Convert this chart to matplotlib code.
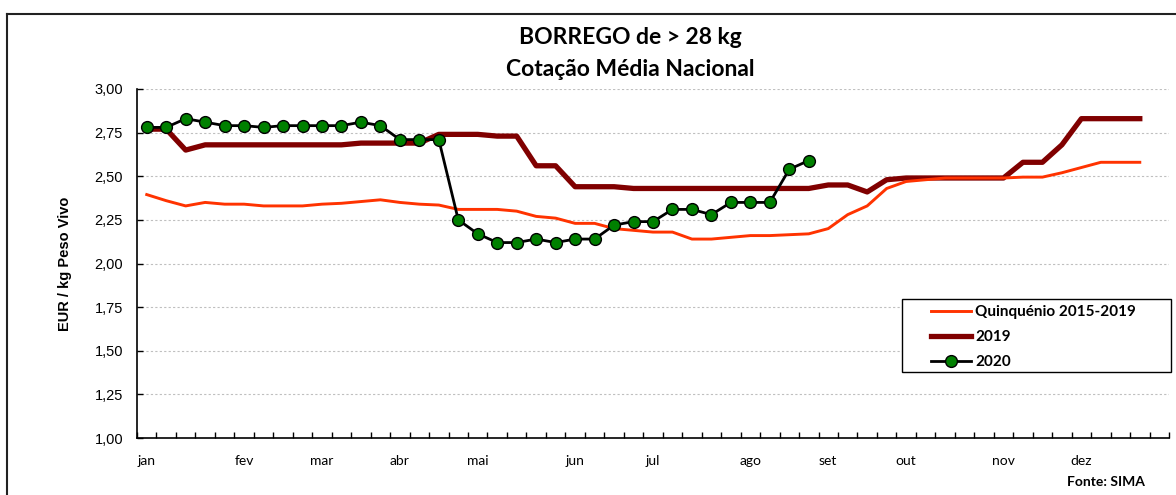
import matplotlib.pyplot as plt
import numpy as np
from matplotlib.lines import Line2D
from matplotlib.patches import Rectangle

# weekly prices, EUR / kg peso vivo
quinquenio = [
    2.395, 2.36, 2.33, 2.35, 2.34, 2.34, 2.33, 2.33, 2.33, 2.34,
    2.345, 2.355, 2.365, 2.35, 2.34, 2.335, 2.31, 2.31, 2.31, 2.30,
    2.27, 2.26, 2.23, 2.23, 2.20, 2.19, 2.18, 2.18, 2.14, 2.14,
    2.15, 2.16, 2.16, 2.165, 2.17, 2.20, 2.28, 2.33, 2.43, 2.47,
    2.48, 2.49, 2.49, 2.49, 2.49, 2.495, 2.495, 2.52, 2.55, 2.58,
    2.58, 2.58,
]
ano_2019 = [
    2.77, 2.77, 2.65, 2.68, 2.68, 2.68, 2.68, 2.68, 2.68, 2.68,
    2.68, 2.69, 2.69, 2.69, 2.69, 2.74, 2.74, 2.74, 2.73, 2.73,
    2.56, 2.56, 2.44, 2.44, 2.44, 2.43, 2.43, 2.43, 2.43, 2.43,
    2.43, 2.43, 2.43, 2.43, 2.43, 2.45, 2.45, 2.41, 2.48, 2.49,
    2.49, 2.49, 2.49, 2.49, 2.49, 2.58, 2.58, 2.68, 2.83, 2.83,
    2.83, 2.83,
]
ano_2020 = [
    2.78, 2.78, 2.83, 2.81, 2.79, 2.79, 2.78, 2.79, 2.79, 2.79,
    2.79, 2.81, 2.79, 2.71, 2.71, 2.71, 2.25, 2.17, 2.12, 2.12,
    2.14, 2.12, 2.14, 2.14, 2.22, 2.24, 2.24, 2.31, 2.31, 2.28,
    2.35, 2.35, 2.35, 2.54, 2.59,
]
n_weeks = 53
month_labels = ["jan", "fev", "mar", "abr", "mai", "jun",
                "jul", "ago", "set", "out", "nov", "dez"]
month_weeks = [0, 5, 9, 13, 17, 22, 26, 31, 35, 39, 44, 48]

W, H = 1176, 495
fig = plt.figure(figsize=(W / 100, H / 100), dpi=100)
ax = fig.add_axes([137 / W, 1 - 438 / H, (1169 - 137) / W, (438 - 89) / H])

ax.plot(np.arange(len(quinquenio)), quinquenio, color="#FF3300",
        linewidth=2.1, label="Quinquénio 2015-2019", zorder=3)
ax.plot(np.arange(len(ano_2019)), ano_2019, color="#800000",
        linewidth=3.8, label="2019", zorder=2)
ax.plot(np.arange(len(ano_2020)), ano_2020, color="black", linewidth=2.0,
        marker="o", markersize=8.5, markerfacecolor="#008000",
        markeredgecolor="black", markeredgewidth=1.0, label="2020", zorder=4)

ax.set_xlim(-0.5, n_weeks - 0.5)
ax.set_ylim(1.0, 3.0)
ax.set_yticks(np.arange(1.0, 3.01, 0.25))
ax.set_yticklabels([f"{v:.2f}".replace(".", ",") for v in np.arange(1.0, 3.01, 0.25)],
                   fontfamily="Liberation Sans", fontsize=10.5)
ax.set_xticks(month_weeks)
ax.set_xticklabels(month_labels, fontfamily="Lato", fontsize=10)
ax.set_xticks(np.arange(-0.5, n_weeks, 1.0), minor=True)
ax.tick_params(axis="x", which="major", length=0, pad=12)
ax.tick_params(axis="x", which="minor", direction="in", length=4, width=1)
ax.tick_params(axis="y", direction="in", length=4, width=1, pad=10)

ax.yaxis.grid(True, color="#BFBFBF", linestyle=(0, (2, 2)), linewidth=0.8)
ax.set_axisbelow(True)
for side in ("top", "right"):
    ax.spines[side].set_visible(False)
for side in ("left", "bottom"):
    ax.spines[side].set_linewidth(1.2)

ax.set_ylabel("EUR / kg Peso Vivo", fontfamily="Liberation Sans",
              fontweight="bold", fontsize=10.5, labelpad=16)

fig.text(630 / W, 1 - 38 / H, "BORREGO de > 28 kg", ha="center", va="center",
         fontfamily="Lato", fontweight="bold", fontsize=16.5)
fig.text(630 / W, 1 - 70 / H, "Cotação Média Nacional", ha="center", va="center",
         fontfamily="Lato", fontweight="bold", fontsize=16.5)
fig.text(1145 / W, 1 - 482 / H, "Fonte: SIMA", ha="right", va="center",
         fontfamily="Lato", fontweight="bold", fontsize=10)

# legend box
bx0, bx1, by0, by1 = 902, 1171, 299, 372
ax_w, ax_h = 1169 - 137, 438 - 89
ax.add_patch(Rectangle(((bx0 - 137) / ax_w, (438 - by1) / ax_h),
                       (bx1 - bx0) / ax_w, (by1 - by0) / ax_h,
                       transform=ax.transAxes, fill=True, facecolor="white",
                       edgecolor="black", linewidth=1.0, zorder=5, clip_on=False))
leg = ax.legend(loc="upper left",
                bbox_to_anchor=((928 - 137) / ax_w, (438 - by0 - 3) / ax_h),
                frameon=False, prop={"family": "Lato", "weight": "bold", "size": 11},
                handlelength=2.6, handletextpad=0.3, labelspacing=0.72,
                borderaxespad=0, borderpad=0.2)
leg.set_zorder(6)

# chart border
fig.add_artist(Line2D([7 / W, 1.0], [1 - 14 / H, 1 - 14 / H], color="#222222", linewidth=1.5))
fig.add_artist(Line2D([7 / W, 7 / W], [1 - 14 / H, 0.0], color="#222222", linewidth=1.5))

fig.savefig("out.png", dpi=100)
